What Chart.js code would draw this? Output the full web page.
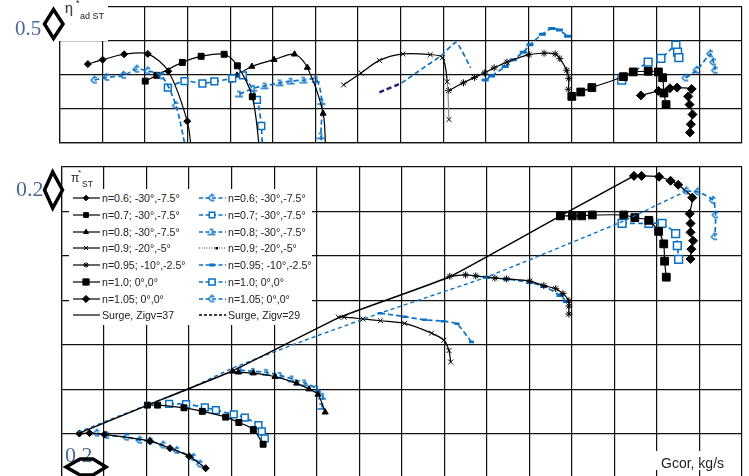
<!DOCTYPE html>
<html>
<head>
<meta charset="utf-8">
<script src="https://cdn.jsdelivr.net/npm/chart.js@4.4.1/dist/chart.umd.min.js"></script>
<style>
html, body { margin: 0; padding: 0; background: #fff; overflow: hidden; }
#wrap { position: relative; width: 749px; height: 476px; overflow: hidden; font-family: "Liberation Sans", Arial, sans-serif; color: #222; }
#wrap > canvas { position: absolute; left: 0; }
#topChart { top: 0; }
#botChart { top: 160px; }
.box { position: absolute; background: #fff; }
.abs { position: absolute; white-space: nowrap; }
.lg { position: absolute; height: 16px; line-height: 16px; font-size: 10.6px; white-space: nowrap; }
.lg canvas { vertical-align: top; margin-right: 1px; }
.stray { position: absolute; font-family: "Liberation Serif", "Times New Roman", serif; color: #4a6896; line-height: 1; }
</style>
</head>
<body>
<div id="wrap">
  <canvas id="topChart" width="749" height="150"></canvas>
  <canvas id="botChart" width="749" height="330"></canvas>
  <div class="box" style="left:58px;top:0;width:50px;height:41px;"></div>
  <div class="box" style="left:69px;top:189px;width:243px;height:136px;"></div>
  <div class="box" style="left:656px;top:451px;width:80px;height:19px;"></div>
  <span class="abs" style="left:65px;top:0px;font-size:14px;">η</span>
  <span class="abs" style="left:76px;top:-2px;font-size:9px;">*</span>
  <span class="abs" style="left:80px;top:11px;font-size:9px;">ad ST</span>
  <span class="abs" style="left:71px;top:171px;font-size:12px;">π</span>
  <span class="abs" style="left:78px;top:168px;font-size:8px;">*</span>
  <span class="abs" style="left:82px;top:179px;font-size:8.5px;">ST</span>
  <div id="legend"></div>
  <span class="abs" style="left:661px;top:455px;font-size:14px;line-height:16px;">Gcor, kg/s</span>
  <span class="stray" style="left:15px;top:18px;font-size:21px;">0.5</span>
  <span class="stray" style="left:16px;top:178px;font-size:22px;">0.2</span>
  <span class="stray" style="left:65px;top:444px;font-size:22px;">0.2</span>
  <svg width="749" height="476" style="position:absolute;left:0;top:0;pointer-events:none">
    <polygon points="53.5,9.5 63,24 53.5,38.5 44.5,24" fill="none" stroke="#000" stroke-width="3.5"/>
    <polygon points="52.7,172 62.5,190 52.7,208 44.5,190" fill="none" stroke="#000" stroke-width="3.5"/>
    <polygon points="66,467 80,459 93,459 106,467 93,475 80,475" fill="none" stroke="#000" stroke-width="3.5"/>
  </svg>
</div>
<script>
// ---- data: top chart, adiabatic efficiency vs corrected flow (a = black, b = blue)
const topG_06a = [0.133, 0.202, 0.303, 0.414, 0.510, 0.599, 0.620];
const topEta_06a = [0.732, 0.745, 0.761, 0.762, 0.711, 0.564, 0.470];
const topG_06b = [0.164, 0.222, 0.300, 0.362, 0.414, 0.480, 0.546, 0.596];
const topEta_06b = [0.685, 0.693, 0.699, 0.717, 0.712, 0.697, 0.610, 0.470];
const topG_07a = [0.402, 0.456, 0.576, 0.664, 0.772, 0.834, 0.904, 0.940];
const topEta_07a = [0.682, 0.699, 0.737, 0.755, 0.761, 0.727, 0.636, 0.470];
const topG_07b = [0.508, 0.586, 0.670, 0.726, 0.810, 0.860, 0.926, 0.946, 0.952];
const topEta_07b = [0.663, 0.682, 0.675, 0.681, 0.690, 0.699, 0.627, 0.550, 0.470];
const topG_08a = [0.806, 0.832, 0.902, 1.006, 1.102, 1.162, 1.236, 1.248];
const topEta_08a = [0.685, 0.699, 0.725, 0.745, 0.761, 0.722, 0.587, 0.470];
const topG_08b = [0.844, 0.910, 0.964, 1.034, 1.086, 1.146, 1.204, 1.230, 1.226, 1.236];
const topEta_08b = [0.644, 0.661, 0.668, 0.677, 0.682, 0.685, 0.687, 0.622, 0.521, 0.470];
const topG_09a = [1.332, 1.414, 1.500, 1.610, 1.738, 1.796, 1.818, 1.826];
const topEta_09a = [0.671, 0.706, 0.743, 0.762, 0.760, 0.751, 0.680, 0.569];
const topG_09b = [1.500, 1.604, 1.706, 1.790, 1.860, 1.928];
const topEta_09b = [0.649, 0.677, 0.721, 0.757, 0.796, 0.721];
const topG_095a = [1.824, 1.894, 1.946, 1.992, 2.038, 2.098, 2.202, 2.272, 2.324, 2.346, 2.378, 2.388, 2.386];
const topEta_095a = [0.654, 0.677, 0.693, 0.706, 0.721, 0.738, 0.760, 0.764, 0.762, 0.748, 0.714, 0.690, 0.658];
const topG_095b = [1.996, 2.026, 2.090, 2.128, 2.174, 2.206, 2.264, 2.308, 2.344, 2.382];
const topEta_095b = [0.685, 0.697, 0.725, 0.745, 0.767, 0.789, 0.820, 0.837, 0.832, 0.814];
const topG_10a = [2.402, 2.444, 2.496, 2.644, 2.690, 2.760, 2.808, 2.828, 2.834, 2.844];
const topEta_10a = [0.637, 0.650, 0.663, 0.695, 0.709, 0.711, 0.709, 0.692, 0.647, 0.613];
const topG_10b = [2.636, 2.760, 2.820, 2.890, 2.898, 2.904];
const topEta_10b = [0.685, 0.738, 0.749, 0.788, 0.767, 0.751];
const topG_105a = [2.726, 2.808, 2.862, 2.896, 2.964, 2.948, 2.954, 2.968, 2.960, 2.956];
const topEta_105a = [0.640, 0.653, 0.661, 0.663, 0.659, 0.637, 0.613, 0.584, 0.555, 0.531];
const topG_105b = [2.936, 2.988, 3.052, 3.066, 3.074];
const topEta_105b = [0.691, 0.714, 0.762, 0.738, 0.714];

// ---- data: bottom chart, pressure ratio vs corrected flow
const botG_06a = [0.084, 0.132, 0.202, 0.416, 0.510, 0.600, 0.678];
const botPi_06a = [1.200, 1.202, 1.196, 1.166, 1.134, 1.098, 1.044];
const botG_06b = [0.166, 0.212, 0.306, 0.368, 0.416, 0.478, 0.542, 0.620, 0.652];
const botPi_06b = [1.202, 1.192, 1.184, 1.170, 1.166, 1.148, 1.124, 1.092, 1.062];
const botG_07a = [0.404, 0.452, 0.576, 0.662, 0.772, 0.834, 0.902, 0.948];
const botPi_07a = [1.328, 1.328, 1.316, 1.300, 1.274, 1.250, 1.218, 1.152];
const botG_07b = [0.506, 0.586, 0.674, 0.726, 0.810, 0.862, 0.926, 0.942, 0.956];
const botPi_07b = [1.334, 1.332, 1.318, 1.306, 1.286, 1.272, 1.238, 1.210, 1.178];
const botG_08a = [0.804, 0.832, 0.902, 1.004, 1.106, 1.164, 1.206, 1.240];
const botPi_08a = [1.480, 1.476, 1.472, 1.456, 1.426, 1.400, 1.376, 1.296];
const botG_08b = [0.840, 0.902, 0.964, 1.028, 1.084, 1.144, 1.200, 1.228, 1.224];
const botPi_08b = [1.486, 1.480, 1.476, 1.462, 1.446, 1.428, 1.402, 1.368, 1.322];
const botG_09a = [1.302, 1.330, 1.418, 1.500, 1.614, 1.740, 1.798, 1.822, 1.830];
const botPi_09a = [1.724, 1.724, 1.716, 1.708, 1.696, 1.652, 1.620, 1.574, 1.522];
const botG_09b = [1.498, 1.614, 1.708, 1.794, 1.860, 1.928];
const botPi_09b = [1.742, 1.726, 1.712, 1.706, 1.694, 1.612];
const botG_095a = [1.826, 1.900, 1.948, 2.038, 2.092, 2.202, 2.268, 2.324, 2.358, 2.386, 2.386, 2.386];
const botPi_095a = [1.908, 1.914, 1.910, 1.900, 1.896, 1.886, 1.866, 1.852, 1.830, 1.798, 1.774, 1.738];
const botG_095b = [1.998, 2.092, 2.202, 2.268, 2.344, 2.374];
const botPi_095b = [1.904, 1.896, 1.880, 1.862, 1.822, 1.794];
const botG_10a = [2.346, 2.402, 2.446, 2.496, 2.644, 2.696, 2.762, 2.808, 2.832, 2.836, 2.844];
const botPi_10a = [2.180, 2.180, 2.180, 2.184, 2.184, 2.172, 2.160, 2.110, 2.054, 1.976, 1.904];
const botG_10b = [2.636, 2.762, 2.824, 2.888, 2.896, 2.902];
const botPi_10b = [2.146, 2.146, 2.146, 2.100, 2.046, 1.984];
const botG_105a = [2.692, 2.728, 2.810, 2.864, 2.900, 2.966, 2.954, 2.958, 2.958, 2.970, 2.962, 2.958];
const botPi_105a = [2.360, 2.360, 2.356, 2.338, 2.320, 2.262, 2.190, 2.146, 2.106, 2.068, 2.030, 1.986];
const botG_105b = [2.938, 2.992, 3.064, 3.076, 3.072];
const botPi_105b = [2.292, 2.288, 2.250, 2.184, 2.086];
const surgeG_37 = [0.078, 0.400, 0.808, 1.310, 1.826, 2.346, 2.692];
const surgePi_37 = [1.200, 1.326, 1.484, 1.724, 1.906, 2.180, 2.360];
const surgeG_29 = [0.078, 0.400, 0.594, 0.808, 1.122, 1.498, 1.998, 2.626, 2.938];
const surgePi_29 = [1.206, 1.328, 1.400, 1.496, 1.612, 1.742, 1.904, 2.150, 2.292];

const legendLeft = ['n=0.6; -30°,-7.5°', 'n=0.7; -30°,-7.5°', 'n=0.8; -30°,-7.5°', 'n=0.9; -20°,-5°',
  'n=0.95; -10°,-2.5°', 'n=1.0; 0°,0°', 'n=1.05; 0°,0°', 'Surge, Zigv=37'];
const legendRight = ['n=0.6; -30°,-7.5°', 'n=0.7; -30°,-7.5°', 'n=0.8; -30°,-7.5°', 'n=0.9; -20°,-5°',
  'n=0.95; -10°,-2.5°', 'n=1.0; 0°,0°', 'n=1.05; 0°,0°', 'Surge, Zigv=29'];

const BLUE = '#0a72c4';
const NAVY = '#1c1f8a';
const GRID = '#111';

function pts(xs, ys) { return xs.map((x, i) => ({ x: x, y: ys[i] })); }

// odd little blue markers from the original plot
function markerCanvas(draw) {
    const c = document.createElement('canvas');
    c.width = 11; c.height = 11;
    const g = c.getContext('2d');
    g.strokeStyle = BLUE; g.lineWidth = 1.3;
    g.beginPath(); draw(g); g.stroke();
    return c;
}
const hatMark = markerCanvas(g => { g.moveTo(8, 3); g.lineTo(4.5, 3); g.lineTo(2, 5.5); g.lineTo(4.5, 8); g.lineTo(8, 8); g.moveTo(4.5, 3); g.lineTo(6, 1); });
const footMark = markerCanvas(g => { g.moveTo(1, 8); g.lineTo(9, 8); g.moveTo(6, 8); g.lineTo(6, 3); g.lineTo(3, 3); });

const mk = {
    a06: { pointStyle: 'rectRot', r: 3.5, fill: '#000', stroke: '#000', bw: 1 },
    a07: { pointStyle: 'rect', r: 4.2, fill: '#000', stroke: '#000', bw: 1 },
    a08: { pointStyle: 'triangle', r: 3.5, fill: '#000', stroke: '#000', bw: 1 },
    a09: { pointStyle: 'crossRot', r: 3.5, fill: '#000', stroke: '#000', bw: 1 },
    a095: { pointStyle: 'star', r: 3.5, fill: '#000', stroke: '#000', bw: 1 },
    a10: { pointStyle: 'rect', r: 5.5, fill: '#000', stroke: '#000', bw: 1 },
    a105: { pointStyle: 'rectRot', r: 4.5, fill: '#000', stroke: '#000', bw: 1 },
    b06: { pointStyle: hatMark, r: 5, fill: BLUE, stroke: BLUE, bw: 1 },
    b07: { pointStyle: 'rect', r: 4.8, fill: '#fff', stroke: BLUE, bw: 1.5 },
    b08: { pointStyle: footMark, r: 5, fill: BLUE, stroke: BLUE, bw: 1 },
    b09: { pointStyle: 'line', r: 2.5, fill: BLUE, stroke: BLUE, bw: 2.5 },
    b095: { pointStyle: 'line', r: 3.5, fill: BLUE, stroke: BLUE, bw: 3 },
    b10: { pointStyle: 'rect', r: 5.5, fill: '#fff', stroke: BLUE, bw: 1.5 },
    b105: { pointStyle: hatMark, r: 5, fill: BLUE, stroke: BLUE, bw: 1 },
};

function series(xs, ys, m, blue, extra) {
    return Object.assign({
        data: pts(xs, ys),
        showLine: true,
        borderColor: blue ? BLUE : '#000',
        borderWidth: blue ? 1.7 : 1.2,
        borderDash: blue ? [5, 3] : [],
        tension: 0.3,
        pointStyle: m ? m.pointStyle : 'circle',
        pointRadius: m ? m.r : 0,
        pointHoverRadius: m ? m.r : 0,
        pointBackgroundColor: m ? m.fill : '#000',
        pointBorderColor: m ? m.stroke : '#000',
        pointBorderWidth: m ? m.bw : 0,
    }, extra || {});
}

function makeChart(id, datasets, yMin, yMax, yStep, pad) {
    const axis = (min, max, step) => ({
        type: 'linear', min: min, max: max,
        ticks: { display: false, stepSize: step },
        grid: { color: GRID, lineWidth: 1.2, drawTicks: false },
        border: { color: GRID, width: 1.2 }
    });
    return new Chart(document.getElementById(id), {
        type: 'scatter',
        data: { datasets: datasets },
        options: {
            responsive: false,
            animation: false,
            layout: { padding: pad },
            plugins: { legend: { display: false }, tooltip: { enabled: false } },
            scales: { x: axis(0, 3.2, 0.2), y: axis(yMin, yMax, yStep) }
        }
    });
}

makeChart('topChart', [
    series(topG_06a, topEta_06a, mk.a06, false),
    series(topG_06b, topEta_06b, mk.b06, true),
    series(topG_07a, topEta_07a, mk.a07, false),
    series(topG_07b, topEta_07b, mk.b07, true),
    series(topG_08a, topEta_08a, mk.a08, false),
    series(topG_08b, topEta_08b, mk.b08, true),
    series(topG_09a, topEta_09a, mk.a09, false, {
        segment: { borderColor: c => c.p1DataIndex === topG_09a.length - 1 ? '#8a8a8a' : undefined }
    }),
    series(topG_09b, topEta_09b, null, true, {
        tension: 0.15,
        segment: {
            borderColor: c => c.p0DataIndex === 0 ? NAVY : undefined,
            borderWidth: c => c.p0DataIndex === 0 ? 2.5 : undefined
        }
    }),
    series(topG_095a, topEta_095a, mk.a095, false),
    series(topG_095b, topEta_095b, mk.b095, true),
    series(topG_10a, topEta_10a, mk.a10, false, { tension: 0.2 }),
    series(topG_10b, topEta_10b, mk.b10, true, { tension: 0.15 }),
    series(topG_105a, topEta_105a, mk.a105, false, { tension: 0.2 }),
    series(topG_105b, topEta_105b, mk.b105, true, { tension: 0.15 }),
], 0.5, 0.9, 0.1, { left: 59.5, right: 7, top: 5.5, bottom: 6 });

makeChart('botChart', [
    series(surgeG_37, surgePi_37, null, false, { tension: 0.1, borderWidth: 1.5 }),
    series(surgeG_29, surgePi_29, null, true, { tension: 0.1, borderWidth: 1.4, borderDash: [4, 3] }),
    series(botG_06a, botPi_06a, mk.a06, false),
    series(botG_06b, botPi_06b, mk.b06, true),
    series(botG_07a, botPi_07a, mk.a07, false),
    series(botG_07b, botPi_07b, mk.b07, true),
    series(botG_08a, botPi_08a, mk.a08, false),
    series(botG_08b, botPi_08b, mk.b08, true),
    series(botG_09a, botPi_09a, mk.a09, false),
    series(botG_09b, botPi_09b, mk.b09, true, { tension: 0.15 }),
    series(botG_095a, botPi_095a, mk.a095, false),
    series(botG_095b, botPi_095b, mk.b095, true),
    series(botG_10a, botPi_10a, mk.a10, false, { tension: 0.2 }),
    series(botG_10b, botPi_10b, mk.b10, true, { tension: 0.2 }),
    series(botG_105a, botPi_105a, mk.a105, false, { tension: 0.2 }),
    series(botG_105b, botPi_105b, mk.b105, true, { tension: 0.2 }),
], 1.0, 2.4, 0.2, { left: 61.5, right: 6.5, top: 6, bottom: 12 });

// ---- two-column legend inside the lower plot
const legendMarks = [
    [mk.a06, mk.a07, mk.a08, mk.a09, mk.a095, mk.a10, mk.a105, null],
    [mk.b06, mk.b07, mk.b08, 'dotted', mk.b095, mk.b10, mk.b105, 'dashed']
];

function sample(m, blue) {
    const c = document.createElement('canvas');
    c.width = 28; c.height = 16;
    const ctx = c.getContext('2d');
    ctx.beginPath();
    ctx.lineWidth = blue ? 1.4 : 1.2;
    ctx.strokeStyle = blue ? BLUE : '#000';
    if (m === 'dotted') { ctx.strokeStyle = '#000'; ctx.lineWidth = 0.8; ctx.setLineDash([1, 1.5]); }
    else if (m === 'dashed') { ctx.strokeStyle = '#000'; ctx.setLineDash([3, 2]); }
    else if (blue) ctx.setLineDash([4, 2.5]);
    ctx.moveTo(0, 8); ctx.lineTo(27, 8); ctx.stroke();
    ctx.setLineDash([]);
    if (m === 'dotted') {
        ctx.fillStyle = '#000'; ctx.fillRect(16.5, 7, 2.5, 2.5);
    } else if (m) {
        ctx.fillStyle = m.fill; ctx.strokeStyle = m.stroke; ctx.lineWidth = m.bw;
        Chart.helpers.drawPoint(ctx, { pointStyle: m.pointStyle, radius: m.r * 0.8, rotation: 0, borderWidth: m.bw }, 13, 8);
    }
    return c;
}

const legendEl = document.getElementById('legend');
[legendLeft, legendRight].forEach((labels, col) => {
    labels.forEach((label, i) => {
        const row = document.createElement('div');
        row.className = 'lg';
        row.style.left = (col === 0 ? 73 : 199) + 'px';
        row.style.top = (190.3 + i * 16.7) + 'px';
        row.appendChild(sample(legendMarks[col][i], col === 1));
        const t = document.createElement('span');
        t.textContent = label;
        row.appendChild(t);
        legendEl.appendChild(row);
    });
});
</script>
</body>
</html>
